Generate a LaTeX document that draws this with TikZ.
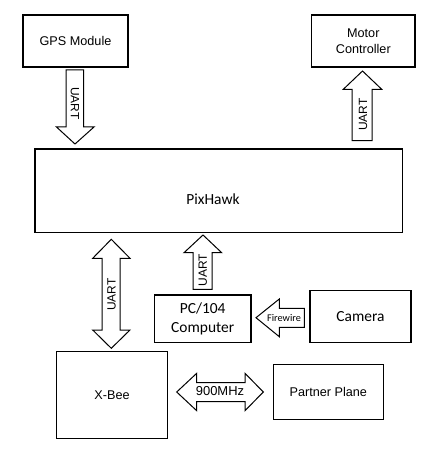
\documentclass[tikz,border=0pt]{standalone}
\usepackage{fontspec}
\setmainfont{Liberation Sans}
\newfontfamily\calibri{Carlito}
\begin{document}
\begin{tikzpicture}[x=1bp,y=-1bp,
  box/.style={draw,line width=1.4bp,inner sep=0pt,align=center},
  arialtxt/.style={font=\fontsize{12.7}{15.5}\selectfont},
  calitxt/.style={font=\calibri\fontsize{15.5}{19}\selectfont},
  blockarrow/.style={draw,line width=1bp,line join=miter,fill=white},
  arrowlabel/.style={inner sep=0pt,font=\fontsize{12}{14}\selectfont}]
\useasboundingbox (0,0) rectangle (431,453);
% boxes
\node[box,arialtxt,minimum width=105bp,minimum height=52bp] (gps) at (75.5,41) {GPS Module};
\node[box,arialtxt,minimum width=103.3bp,minimum height=51.7bp] (motor) at (363.3,41) {Motor\\Controller};
\node[box,minimum width=367.7bp,minimum height=83.7bp] (pix) at (218.8,190.8) {};
\node[calitxt,inner sep=0pt] (pixtext) at (213,199) {PixHawk};
\node[box,calitxt,minimum width=96.7bp,minimum height=47.3bp] (pc) at (202.7,318.7) {PC/104\\Computer};
\node[box,calitxt,minimum width=101bp,minimum height=51.6bp] (cam) at (360.5,316.5) {Camera};
\node[box,arialtxt,minimum width=110.6bp,minimum height=86.6bp] (xbee) at (112,395) {X-Bee};
\node[box,arialtxt,minimum width=110bp,minimum height=55bp] (partner) at (328.3,391.8) {Partner Plane};
% GPS -> PixHawk
\draw[blockarrow] (66,70) -- (83.5,70) -- (83.5,127) -- (94,127) -- (75,144) -- (56.5,127) -- (66,127) -- cycle;
\node[arrowlabel,rotate=-90] (lgps) at (75,103.5) {UART};
% PixHawk -> Motor
\draw[blockarrow] (352,140.7) -- (372,140.7) -- (372,89.3) -- (381.7,89.3) -- (362.5,71) -- (343.3,89.3) -- (352,89.3) -- cycle;
\node[arrowlabel,rotate=90] (lmotor) at (363,114.5) {UART};
% PixHawk <-> X-Bee
\draw[blockarrow] (111.3,239.3) -- (130,258.3) -- (120,258.3) -- (120,330) -- (130,330) -- (111.3,348.3) -- (92.7,330) -- (102,330) -- (102,258.3) -- (92.7,258.3) -- cycle;
\node[arrowlabel,rotate=90] (lxbee) at (111.5,294.5) {UART};
% PC/104 -> PixHawk
\draw[blockarrow] (193,289.3) -- (212,289.3) -- (212,252.7) -- (221.7,252.7) -- (203,235) -- (184,252.7) -- (193,252.7) -- cycle;
\node[arrowlabel,rotate=90] (lpc) at (202.7,270) {UART};
% Camera -> PC/104
\draw[blockarrow] (304.3,308.3) -- (304.3,327.3) -- (279.3,327.3) -- (279.3,336.7) -- (256,317.7) -- (279.3,299) -- (279.3,308.3) -- cycle;
\node[inner sep=0pt,font=\calibri\fontsize{10.3}{12}\selectfont] (lcam) at (284,318) {Firewire};
% X-Bee <-> Partner Plane
\draw[blockarrow] (176.7,392) -- (196.7,373.3) -- (196.7,382.7) -- (245,382.7) -- (245,373.3) -- (263.3,392) -- (245,410.7) -- (245,401.7) -- (196.7,401.7) -- (196.7,410.7) -- cycle;
\node[inner sep=0pt,font=\fontsize{13}{15}\selectfont] (lradio) at (220,391.5) {900MHz};
\end{tikzpicture}
\end{document}
